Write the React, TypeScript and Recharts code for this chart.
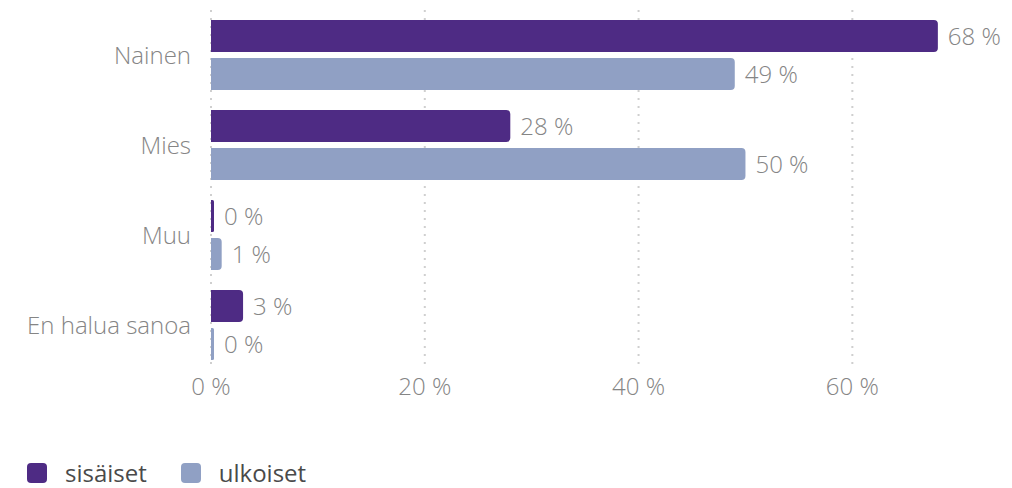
import React from 'react';
import { BarChart, Bar, XAxis, YAxis, CartesianGrid, LabelList } from 'recharts';

const categories = ['Nainen', 'Mies', 'Muu', 'En halua sanoa'];
const sisaiset = [68, 28, 0, 3];
const ulkoiset = [49, 50, 1, 0];
const xTicks = [0, 20, 40, 60];

const PURPLE = '#4e2b84';
const LIGHT = '#90a0c4';
const TEXT = '#858585';
const FONT = '"Open Sans", sans-serif';

const data = categories.map((name, i) => ({
  name,
  sisaiset: sisaiset[i],
  ulkoiset: ulkoiset[i],
}));

const pct = (v: number) => `${v} %`;

const App = () => {
  return (
    <div style={{ position: 'absolute', left: 0, top: 0, width: 1012, height: 488, background: '#fff', fontFamily: FONT }}>
      <BarChart
        width={1012}
        height={488}
        data={data}
        layout="vertical"
        margin={{ top: 10, right: 10, left: 0, bottom: 88 }}
        barCategoryGap={10}
        barGap={6}
      >
        {/* dotted vertical grid, only at the tick values */}
        <CartesianGrid
          horizontal={false}
          verticalValues={xTicks}
          syncWithTicks
          stroke="#cfcfcf"
          strokeDasharray="2 6"
          strokeWidth={2}
        />
        <XAxis
          type="number"
          domain={[0, 74]}
          ticks={xTicks}
          tickFormatter={pct}
          axisLine={false}
          tickLine={false}
          height={30}
          tick={{ fill: TEXT, fontSize: 24, fontFamily: FONT, fontWeight: 300 }}
        />
        <YAxis
          type="category"
          dataKey="name"
          width={211}
          axisLine={false}
          tickLine={false}
          tickMargin={14}
          tick={{ fill: TEXT, fontSize: 24, fontFamily: FONT, fontWeight: 300 }}
        />
        <Bar dataKey="sisaiset" fill={PURPLE} radius={[0, 4, 4, 0]} minPointSize={3} isAnimationActive={false}>
          <LabelList dataKey="sisaiset" position="right" offset={10} formatter={pct} fill={TEXT} fontSize={24} fontFamily={FONT} fontWeight={300} />
        </Bar>
        <Bar dataKey="ulkoiset" fill={LIGHT} radius={[0, 4, 4, 0]} minPointSize={3} isAnimationActive={false}>
          <LabelList dataKey="ulkoiset" position="right" offset={10} formatter={pct} fill={TEXT} fontSize={24} fontFamily={FONT} fontWeight={300} />
        </Bar>
      </BarChart>
      <div style={{ position: 'absolute', left: 27, top: 456, display: 'flex', alignItems: 'center', fontSize: 24, color: '#4a4a4a' }}>
        <span style={{ width: 20, height: 20, borderRadius: 4, background: PURPLE, display: 'inline-block' }} />
        <span style={{ marginLeft: 18 }}>sisäiset</span>
        <span style={{ width: 20, height: 20, borderRadius: 4, background: LIGHT, display: 'inline-block', marginLeft: 34 }} />
        <span style={{ marginLeft: 18 }}>ulkoiset</span>
      </div>
    </div>
  );
};

export default App;
